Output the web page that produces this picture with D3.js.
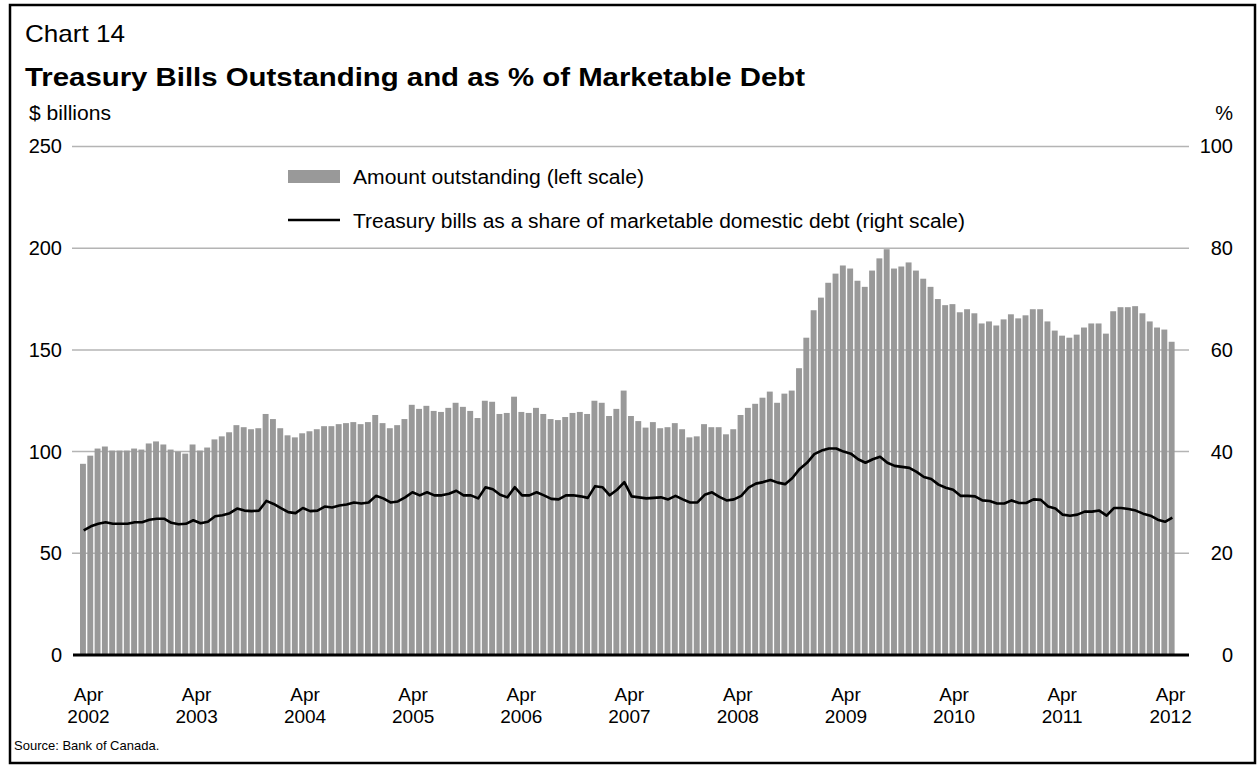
<!DOCTYPE html>
<html><head><meta charset="utf-8">
<script src="https://cdn.jsdelivr.net/npm/d3@7"></script>
<style>
html,body{margin:0;padding:0;background:#fff;}
svg{display:block;font-family:"Liberation Sans",Arial,Helvetica,sans-serif;}
</style></head>
<body><svg id="c" width="1258" height="767"></svg>
<script>
// ---- data ----
const periodStart = "2002-03-05";
const periodEnd = "2012-04-21";
const amountOutstanding = [
 94,98,101.5,102.5,100.5,100.5,100.5,101.5,101,104,
 105,103.5,101,100,99,103.5,100.5,102,106,107.5,
 109.5,113,112,111,111.5,118.5,116,111.5,108,107,
 109,110,111,112.5,112.5,113.5,114,114.5,113.5,114.5,
 118,114,111.5,113,116,123,121,122.5,120,119.5,
 121.5,124,122,120,116.5,125,124.5,118.5,119,127,
 119.5,119,121.5,118.5,116,115.5,117,119,119.5,118.5,
 125,124,117.5,121,130,117.5,115,111.8,114.5,111.5,
 112,114,111,107,107.5,113.5,112,112,108.5,111,
 118,121.5,123.5,126.5,129.5,124,128.5,130,141,156,
 169.5,175.7,183,187.5,191.5,190,184,181,189,195,
 199.5,190,191,193,189,185,181,175,172,172.5,
 168.5,170,168,163,164,162,165,167.5,165.5,167,
 170,170,164,159.5,157,156,157.5,161,163,163,
 158,169,171,171,171.5,168,164,161,160,154
];
const billShare = [
 24.5,25.3,25.8,26.1,25.8,25.8,25.8,26.1,26.1,26.6,
 26.8,26.8,26.0,25.7,25.8,26.5,25.9,26.2,27.3,27.5,
 27.9,28.8,28.4,28.3,28.4,30.3,29.7,28.9,28.1,27.9,
 28.9,28.3,28.4,29.2,29.0,29.4,29.6,30.0,29.8,30.0,
 31.3,30.8,30.0,30.2,31.0,32.0,31.4,32.0,31.4,31.4,
 31.7,32.3,31.4,31.4,30.8,33.0,32.6,31.5,31.0,33.0,
 31.4,31.4,32.0,31.4,30.7,30.6,31.4,31.4,31.2,30.9,
 33.2,33.0,31.4,32.5,34.0,31.2,31.0,30.8,30.9,31.0,
 30.6,31.3,30.6,30.0,30.0,31.5,32.0,31.1,30.4,30.6,
 31.3,32.9,33.7,34.0,34.4,33.9,33.6,34.8,36.6,37.8,
 39.5,40.2,40.6,40.6,40.0,39.6,38.5,37.8,38.5,39.0,
 37.8,37.2,37.0,36.8,36.0,35.0,34.6,33.5,32.9,32.5,
 31.3,31.3,31.2,30.4,30.3,29.8,29.8,30.4,29.9,29.9,
 30.6,30.5,29.2,28.8,27.6,27.4,27.6,28.2,28.2,28.4,
 27.4,28.9,28.9,28.7,28.4,27.8,27.4,26.6,26.2,27.0
];
const leftTicks = [0,50,100,150,200,250];
const rightTicks = [0,20,40,60,80,100];
const tickYears = [2002,2003,2004,2005,2006,2007,2008,2009,2010,2011,2012];
const tickMonthLabel = "Apr";
const chartNumber = "Chart 14";
const chartTitle = "Treasury Bills Outstanding and as % of Marketable Debt";
const leftUnit = "$ billions";
const rightUnit = "%";
const legendBars = "Amount outstanding (left scale)";
const legendLine = "Treasury bills as a share of marketable domestic debt (right scale)";
const sourceNote = "Source: Bank of Canada.";

// ---- layout ----
const svg = d3.select("#c");
const plotL = 80, plotR = 1176, gridL = 72, gridR = 1189;
const yTop = 146.5, yBot = 655;

const t0 = new Date(periodStart + "T00:00:00"), t1 = new Date(periodEnd + "T00:00:00");
const x = d3.scaleTime().domain([t0, t1]).range([plotL, plotR]);
const n = amountOutstanding.length;
const stepMs = (t1 - t0) / n;
const dates = d3.range(n + 1).map(i => new Date(+t0 + i * stepMs));
const yL = d3.scaleLinear().domain([0, 250]).range([yBot, yTop]);
const yR = d3.scaleLinear().domain([0, 100]).range([yBot, yTop]);

// frame
svg.append("rect").attr("x", 10).attr("y", 5).attr("width", 1245).attr("height", 758)
  .attr("fill", "none").attr("stroke", "#000").attr("stroke-width", 2.5);

// titles
svg.append("text").attr("x", 25).attr("y", 42).attr("font-size", 24)
  .attr("textLength", 100).attr("lengthAdjust", "spacingAndGlyphs").text(chartNumber);
svg.append("text").attr("x", 25).attr("y", 86).attr("font-size", 26).attr("font-weight", "bold")
  .attr("textLength", 780).attr("lengthAdjust", "spacingAndGlyphs").text(chartTitle);
svg.append("text").attr("x", 29).attr("y", 120).attr("font-size", 20)
  .attr("textLength", 82).attr("lengthAdjust", "spacingAndGlyphs").text(leftUnit);
svg.append("text").attr("x", 1233).attr("y", 120).attr("font-size", 20).attr("text-anchor", "end").text(rightUnit);

// gridlines
svg.append("g").selectAll("line").data(leftTicks.filter(d => d > 0)).join("line")
  .attr("x1", gridL).attr("x2", gridR).attr("y1", d => yL(d)).attr("y2", d => yL(d))
  .attr("stroke", "#b4b4b4").attr("stroke-width", 1.5);

// bars
const gap = 1.4;
svg.append("g").selectAll("rect").data(amountOutstanding).join("rect")
  .attr("x", (d, i) => x(dates[i]))
  .attr("width", (d, i) => Math.max(0.5, x(dates[i + 1]) - x(dates[i]) - gap))
  .attr("y", d => yL(d))
  .attr("height", d => yBot - yL(d))
  .attr("fill", "#999999");

// zero line
svg.append("line").attr("x1", gridL + 1).attr("x2", gridR).attr("y1", yBot).attr("y2", yBot)
  .attr("stroke", "#000").attr("stroke-width", 3);

// share line
const mid = i => new Date((+dates[i] + +dates[i + 1]) / 2);
const line = d3.line().x((d, i) => x(mid(i))).y(d => yR(d));
svg.append("path").datum(billShare).attr("d", line)
  .attr("fill", "none").attr("stroke", "#000").attr("stroke-width", 2.6).attr("stroke-linejoin", "round");

// left axis
const gL = svg.append("g").attr("transform", `translate(${gridL},0)`)
  .call(d3.axisLeft(yL).tickValues(leftTicks).tickSize(0).tickPadding(10));
gL.select(".domain").remove();
gL.selectAll("text").attr("font-size", 20).attr("font-family", null).attr("fill", "#000");

// right axis
const gR = svg.append("g").attr("transform", `translate(${gridR},0)`)
  .call(d3.axisRight(yR).tickValues(rightTicks).tickSize(0).tickPadding(44));
gR.select(".domain").remove();
gR.selectAll("text").attr("font-size", 20).attr("font-family", null).attr("fill", "#000").attr("text-anchor", "end");

// bottom axis
const tickDates = tickYears.map(yv => new Date(yv, 3, 1));
const gB = svg.append("g").attr("transform", `translate(0,${yBot})`)
  .call(d3.axisBottom(x).tickValues(tickDates).tickSize(0).tickFormat(() => ""));
gB.select(".domain").remove();
gB.selectAll(".tick text").each(function(d) {
  const t = d3.select(this).attr("font-size", 19).attr("font-family", null).attr("fill", "#000").attr("y", 0).attr("dy", null);
  t.append("tspan").attr("x", 0).attr("y", 46).text(tickMonthLabel);
  t.append("tspan").attr("x", 0).attr("y", 68).text(d.getFullYear());
});

// legend
const lg = svg.append("g");
lg.append("rect").attr("x", 288).attr("y", 170).attr("width", 52).attr("height", 13).attr("fill", "#999999");
lg.append("text").attr("x", 353).attr("y", 184).attr("font-size", 20)
  .attr("textLength", 291).attr("lengthAdjust", "spacingAndGlyphs").text(legendBars);
lg.append("line").attr("x1", 288).attr("x2", 340).attr("y1", 220).attr("y2", 220).attr("stroke", "#000").attr("stroke-width", 2.6);
lg.append("text").attr("x", 353).attr("y", 228).attr("font-size", 20)
  .attr("textLength", 612).attr("lengthAdjust", "spacingAndGlyphs").text(legendLine);

// source
svg.append("text").attr("x", 14).attr("y", 750).attr("font-size", 13).text(sourceNote);
</script></body></html>
